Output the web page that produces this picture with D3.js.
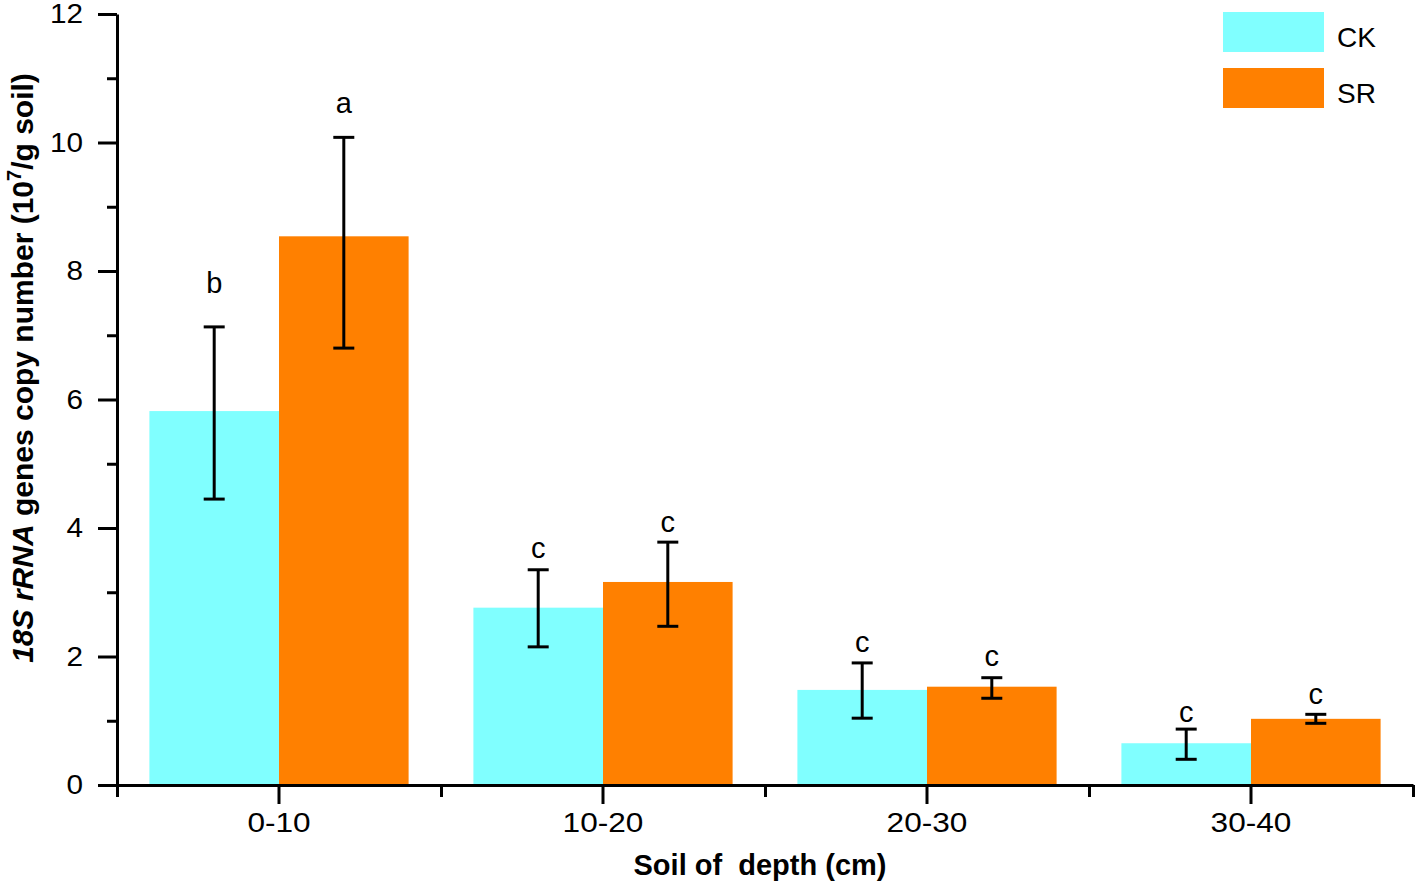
<!DOCTYPE html>
<html><head><meta charset="utf-8">
<script src="https://cdn.jsdelivr.net/npm/d3@7"></script>
<style>
body{margin:0;background:#fff}
text{font-family:"Liberation Sans",Arial,Helvetica,sans-serif;fill:#000}
</style>
</head><body>
<svg id="c" width="1418" height="886"></svg>
<script>
// ---- data ----
const categories = ["0-10", "10-20", "20-30", "30-40"];
const seriesNames = ["CK", "SR"];
const ckMean    = [5.82, 2.76, 1.48, 0.65];
const ckErrHigh = [7.13, 3.35, 1.90, 0.87];
const ckErrLow  = [4.45, 2.15, 1.04, 0.40];
const srMean    = [8.54, 3.16, 1.53, 1.03];
const srErrHigh = [10.08, 3.78, 1.67, 1.10];
const srErrLow  = [6.80, 2.47, 1.35, 0.96];
const ckLetters = ["b", "c", "c", "c"];
const srLetters = ["a", "c", "c", "c"];
const ckLetterAt = [7.66, 3.53, 2.07, 0.98];
const srLetterAt = [10.46, 3.94, 1.85, 1.26];
const yTicks = [0, 2, 4, 6, 8, 10, 12];
const yMinorTicks = [1, 3, 5, 7, 9, 11];
const xLabel = "Soil of  depth (cm)";

// ---- build ----
const colors = {CK: "#80FFFF", SR: "#FF8000"};
const series = [
  {name: "CK", mean: ckMean, hi: ckErrHigh, lo: ckErrLow, letters: ckLetters, at: ckLetterAt},
  {name: "SR", mean: srMean, hi: srErrHigh, lo: srErrLow, letters: srLetters, at: srLetterAt}
];
const rows = [];
series.forEach(s => categories.forEach((c, i) => rows.push({
  cat: c, name: s.name, v: s.mean[i], hi: s.hi[i], lo: s.lo[i], letter: s.letters[i], at: s.at[i]
})));

const svg = d3.select("#c");
const mL = 117, mR = 1413, mT = 14, mB = 785;
const y = d3.scaleLinear().domain([0, 12]).range([mB, mT]);
const x = d3.scaleBand().domain(categories).range([mL, mR]).padding(0);
const bw = x.bandwidth();
const x1 = d3.scaleBand().domain(seriesNames).range([bw * 0.1, bw * 0.9]).padding(0);
const xb = d3.scaleLinear().domain([0, categories.length]).range([mL, mR]);

// bars
svg.append("g").selectAll("rect").data(rows).join("rect")
  .attr("x", d => x(d.cat) + x1(d.name))
  .attr("y", d => y(d.v))
  .attr("width", x1.bandwidth())
  .attr("height", d => y(0) - y(d.v))
  .attr("fill", d => colors[d.name]);

// error bars
const eg = svg.append("g").attr("stroke", "#000").attr("stroke-width", 3);
const cx = d => x(d.cat) + x1(d.name) + x1.bandwidth() / 2;
eg.selectAll("line.v").data(rows).join("line").attr("class", "v")
  .attr("x1", cx).attr("x2", cx).attr("y1", d => y(d.hi)).attr("y2", d => y(d.lo));
eg.selectAll("line.h").data(rows).join("line").attr("class", "h")
  .attr("x1", d => cx(d) - 10.5).attr("x2", d => cx(d) + 10.5).attr("y1", d => y(d.hi)).attr("y2", d => y(d.hi));
eg.selectAll("line.l").data(rows).join("line").attr("class", "l")
  .attr("x1", d => cx(d) - 10.5).attr("x2", d => cx(d) + 10.5).attr("y1", d => y(d.lo)).attr("y2", d => y(d.lo));

// significance letters
svg.append("g").selectAll("text").data(rows).join("text")
  .attr("x", cx).attr("y", d => y(d.at))
  .attr("text-anchor", "middle").attr("font-size", 29)
  .text(d => d.letter);

function styleAxis(g) {
  g.selectAll(".domain").attr("stroke", "#000").attr("stroke-width", 3);
  g.selectAll(".tick line").attr("stroke", "#000").attr("stroke-width", 3);
}

// y axis
const ga = svg.append("g").attr("transform", `translate(${mL},0)`)
  .call(d3.axisLeft(y).tickValues(yTicks).tickSize(19).tickSizeOuter(0).tickPadding(15).tickFormat(d3.format("d")));
styleAxis(ga);
ga.selectAll(".tick text").attr("font-size", 27).attr("font-family", null).each(function () {
  const t = d3.select(this); const tx = +t.attr("x");
  t.attr("x", 0).attr("transform", `translate(${tx},0) scale(1.1,1)`);
});
const gm = svg.append("g").attr("transform", `translate(${mL},0)`)
  .call(d3.axisLeft(y).tickValues(yMinorTicks).tickSize(10).tickSizeOuter(0).tickFormat(""));
styleAxis(gm);
gm.select(".domain").remove();

// x axis
const gx = svg.append("g").attr("transform", `translate(0,${mB})`)
  .call(d3.axisBottom(x).tickSize(19).tickSizeOuter(0).tickPadding(9));
styleAxis(gx);
gx.selectAll(".tick text").attr("font-size", 27).attr("font-family", null).each(function () {
  const t = d3.select(this); const ty = +t.attr("y");
  t.attr("y", 0).attr("transform", `translate(0,${ty}) scale(1.17,1)`);
});
const gb = svg.append("g").attr("transform", `translate(0,${mB})`)
  .call(d3.axisBottom(xb).tickValues(d3.range(categories.length + 1)).tickSize(12).tickSizeOuter(0).tickFormat(""));
styleAxis(gb);
gb.select(".domain").remove();

// x title
svg.append("text").attr("x", (mL + mR) / 2 - 5).attr("y", 875)
  .attr("text-anchor", "middle").attr("font-size", 29).attr("font-weight", "bold")
  .style("white-space", "pre").text(xLabel);

// y title
const yt = svg.append("text").attr("transform", "translate(33,368) rotate(-90)")
  .attr("text-anchor", "middle").attr("font-size", 30).attr("font-weight", "bold")
  .style("white-space", "pre");
yt.append("tspan").attr("font-style", "italic").text("18S rRNA");
yt.append("tspan").text(" genes copy number (10");
yt.append("tspan").attr("font-size", 20).attr("dy", -12).text("7");
yt.append("tspan").attr("dy", 12).text("/g soil)");

// legend
const lg = svg.append("g");
seriesNames.forEach((n, i) => {
  lg.append("rect").attr("x", 1223).attr("y", 12 + i * 56).attr("width", 101).attr("height", 40).attr("fill", colors[n]);
  lg.append("text").attr("x", 1337).attr("y", 47 + i * 56).attr("font-size", 28).text(n);
});
</script>
</body></html>
